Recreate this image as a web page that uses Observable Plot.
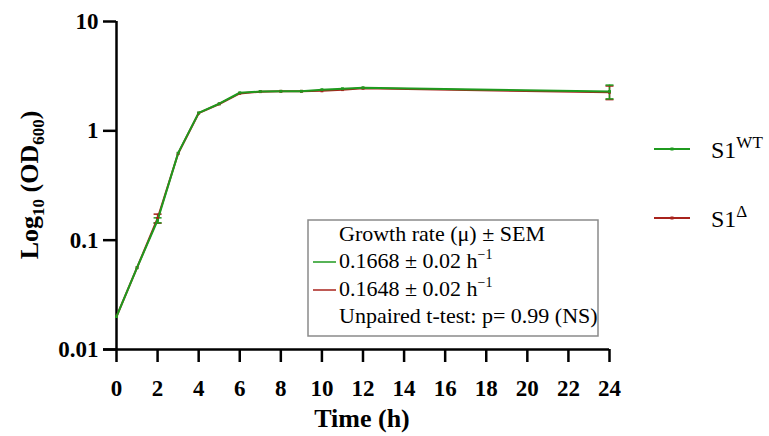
<!DOCTYPE html>
<html><head><meta charset="utf-8">
<script src="https://cdn.jsdelivr.net/npm/d3@7"></script>
<script src="https://cdn.jsdelivr.net/npm/@observablehq/plot@0.6"></script>
<style>
body{margin:0;background:#fff}
#chart svg{font-family:"Liberation Serif",serif}
</style>
</head><body><div id="chart"></div>
<script>
// ---- data ----
const time = [0, 1, 2, 3, 4, 5, 6, 7, 8, 9, 10, 11, 12, 24];
const wtOD = [0.020, 0.056, 0.152, 0.625, 1.46, 1.77, 2.23, 2.29, 2.30, 2.30, 2.38, 2.43, 2.48, 2.29];
const wtSEM = [0, 0, 0.008, 0, 0, 0, 0, 0, 0, 0, 0, 0, 0, 0.33];
const deltaOD = [0.020, 0.056, 0.158, 0.62, 1.45, 1.76, 2.20, 2.28, 2.30, 2.30, 2.32, 2.38, 2.45, 2.25];
const deltaSEM = [0, 0, 0.015, 0, 0, 0, 0, 0, 0, 0, 0, 0, 0, 0.32];
const seriesNames = ["S1Δ", "S1WT"];
const seriesColors = ["#a8231c", "#1f9a1f"];
const xTicks = [0, 2, 4, 6, 8, 10, 12, 14, 16, 18, 20, 22, 24];
const yTicks = [0.01, 0.1, 1, 10];
const yTickLabels = ["0.01", "0.1", "1", "10"];
const insetLines = ["Growth rate (μ) ± SEM", "0.1668 ± 0.02 h", "0.1648 ± 0.02 h", "Unpaired t-test: p= 0.99 (NS)"];

const rows = [];
[[deltaOD, deltaSEM], [wtOD, wtSEM]].forEach(([od, sem], i) => {
  time.forEach((t, j) => rows.push({series: seriesNames[i], t, od: od[j], sem: sem[j], color: seriesColors[i]}));
});
const errRows = rows.filter(d => d.sem > 0);

const capSymbol = {draw(ctx, size) { const w = Math.sqrt(size / Math.PI); ctx.moveTo(-w, 0); ctx.lineTo(w, 0); }};

const plot = Plot.plot({
  width: 769, height: 436,
  marginLeft: 116, marginRight: 160, marginTop: 21, marginBottom: 87,
  style: {fontFamily: "Liberation Serif, serif", background: "white", overflow: "visible"},
  x: {domain: [0, 24]},
  y: {type: "log", domain: [0.01, 10]},
  marks: [
    Plot.axisX({ticks: xTicks, tickSize: 13, tickPadding: 17, strokeWidth: 2.5, fontSize: 23, fontWeight: "bold", label: null, tickFormat: d => String(d)}),
    Plot.axisY({ticks: yTicks, tickSize: 13, tickPadding: 5, strokeWidth: 2.5, fontSize: 23, fontWeight: "bold", label: null, tickFormat: d => yTickLabels[yTicks.indexOf(d)]}),
    Plot.ruleY([0.01], {insetLeft: -13, strokeWidth: 2.5, stroke: "black"}),
    Plot.ruleX([0], {strokeWidth: 2.5, stroke: "black"}),
    Plot.ruleX(errRows, {x: "t", y1: d => d.od - d.sem, y2: d => d.od + d.sem, stroke: "color", strokeWidth: 1.5}),
    Plot.dot(errRows, {x: "t", y: d => d.od + d.sem, symbol: capSymbol, r: 4, stroke: "color", strokeWidth: 1.5}),
    Plot.dot(errRows, {x: "t", y: d => d.od - d.sem, symbol: capSymbol, r: 4, stroke: "color", strokeWidth: 1.5}),
    Plot.line(rows, {x: "t", y: "od", z: "series", stroke: "color", strokeWidth: 2}),
    Plot.dot(rows, {x: "t", y: "od", symbol: "square", r: 1.6, fill: "color", stroke: null})
  ]
});
document.getElementById("chart").appendChild(plot);

// ---- annotations ----
const svg = d3.select(plot);
svg.selectAll('g[aria-label$="tick label"] text').attr("font-weight", "bold").attr("font-size", 23);

// y title
const yt = svg.append("text").attr("transform", "translate(38,185) rotate(-90)")
  .attr("text-anchor", "middle").attr("font-weight", "bold").attr("font-size", 26).attr("fill", "black");
yt.append("tspan").text("Log");
yt.append("tspan").attr("font-size", 17).attr("dy", 6).text("10");
yt.append("tspan").attr("dy", -6).text(" (OD");
yt.append("tspan").attr("font-size", 17).attr("dy", 6).text("600");
yt.append("tspan").attr("dy", -6).text(")");

// x title
svg.append("text").attr("x", 362).attr("y", 427).attr("text-anchor", "middle")
  .attr("font-weight", "bold").attr("font-size", 26).attr("fill", "black").text("Time (h)");

// legend
const legendY = [218, 149];
const supers = ["Δ", "WT"];
[1, 0].forEach(i => {
  const g = svg.append("g").attr("transform", `translate(0,${legendY[i]})`);
  g.append("line").attr("x1", 654).attr("x2", 690).attr("y1", 0).attr("y2", 0).attr("stroke", seriesColors[i]).attr("stroke-width", 2);
  g.append("rect").attr("x", 670.5).attr("y", -1.5).attr("width", 3).attr("height", 3).attr("fill", seriesColors[i]);
  const t = g.append("text").attr("x", 711).attr("y", 9).attr("text-anchor", "start").attr("font-size", 24).attr("fill", "black");
  t.append("tspan").text("S1");
  t.append("tspan").attr("font-size", 17).attr("dy", -10).text(supers[i]);
});

// inset box
svg.append("rect").attr("x", 308).attr("y", 220).attr("width", 290).attr("height", 116)
  .attr("fill", "white").attr("stroke", "#8a8a8a").attr("stroke-width", 1.5);
const baselines = [241, 268, 296, 323];
insetLines.forEach((s, i) => {
  const t = svg.append("text").attr("x", 339).attr("y", baselines[i]).attr("text-anchor", "start").attr("font-size", 22).attr("fill", "black");
  t.append("tspan").text(s);
  if (i === 1 || i === 2) t.append("tspan").attr("font-size", 14).attr("dy", -9).text("−1");
});
svg.append("line").attr("x1", 313).attr("x2", 336).attr("y1", 262).attr("y2", 262).attr("stroke", seriesColors[1]).attr("stroke-width", 1.5);
svg.append("line").attr("x1", 313).attr("x2", 336).attr("y1", 290).attr("y2", 290).attr("stroke", seriesColors[0]).attr("stroke-width", 1.5);
</script>
</body></html>
